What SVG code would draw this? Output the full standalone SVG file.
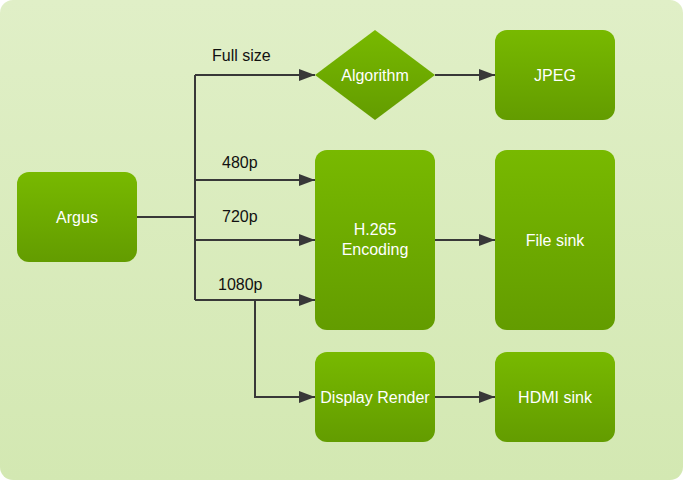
<svg xmlns="http://www.w3.org/2000/svg" width="683" height="480" viewBox="0 0 683 480">
<defs>
<linearGradient id="bg" x1="0" y1="0" x2="0" y2="1">
<stop offset="0" stop-color="#e0efc7"/>
<stop offset="1" stop-color="#d3e8b2"/>
</linearGradient>
<linearGradient id="node" x1="0" y1="0" x2="0" y2="1">
<stop offset="0" stop-color="#78b900"/>
<stop offset="1" stop-color="#639c00"/>
</linearGradient>
<marker id="arr" markerWidth="16" markerHeight="12" refX="16" refY="6" orient="auto" markerUnits="userSpaceOnUse">
<path d="M0,0 L16,6 L0,12 Z" fill="#383838"/>
</marker>
<style>
.n{fill:url(#node)}
.t{font-family:"Liberation Sans",Arial,sans-serif;font-size:16px;fill:#ffffff;text-anchor:middle;dominant-baseline:central}
.l{font-family:"Liberation Sans",Arial,sans-serif;font-size:16px;fill:#111111}
.c{fill:none;stroke:#383838;stroke-width:2}
</style>
</defs>
<rect x="0" y="0" width="683" height="480" fill="#ffffff"/>
<rect x="0" y="0" width="683" height="480" rx="13" fill="url(#bg)"/>
<g id="connectors">
<path class="c" d="M137,217 H195"/>
<path class="c" d="M195,75 V300"/>
<path class="c" d="M195,75 H315" marker-end="url(#arr)"/>
<path class="c" d="M195,180 H315" marker-end="url(#arr)"/>
<path class="c" d="M195,240 H315" marker-end="url(#arr)"/>
<path class="c" d="M195,300 H315" marker-end="url(#arr)"/>
<path class="c" d="M255,300 V397 H315" marker-end="url(#arr)"/>
<path class="c" d="M435,75 H495" marker-end="url(#arr)"/>
<path class="c" d="M435,240 H495" marker-end="url(#arr)"/>
<path class="c" d="M435,397 H495" marker-end="url(#arr)"/>
<text class="l" x="212" y="61">Full size</text>
<text class="l" x="222" y="168">480p</text>
<text class="l" x="222" y="222">720p</text>
<text class="l" x="218" y="290">1080p</text>
</g>
<g id="argus"><rect class="n" x="17" y="172" width="120" height="90" rx="12"/><text class="t" x="77" y="217">Argus</text></g>
<g id="algorithm"><path class="n" d="M375,30 L435,75 L375,120 L315,75 Z"/><text class="t" x="375" y="75">Algorithm</text></g>
<g id="jpeg"><rect class="n" x="495" y="30" width="120" height="90" rx="12"/><text class="t" x="555" y="75">JPEG</text></g>
<g id="h265"><rect class="n" x="315" y="150" width="120" height="180" rx="12"/><text class="t" x="375" y="229">H.265</text><text class="t" x="375" y="249">Encoding</text></g>
<g id="filesink"><rect class="n" x="495" y="150" width="120" height="180" rx="12"/><text class="t" x="555" y="240">File sink</text></g>
<g id="display"><rect class="n" x="315" y="352" width="120" height="90" rx="12"/><text class="t" x="375" y="397">Display Render</text></g>
<g id="hdmi"><rect class="n" x="495" y="352" width="120" height="90" rx="12"/><text class="t" x="555" y="397">HDMI sink</text></g>
</svg>
